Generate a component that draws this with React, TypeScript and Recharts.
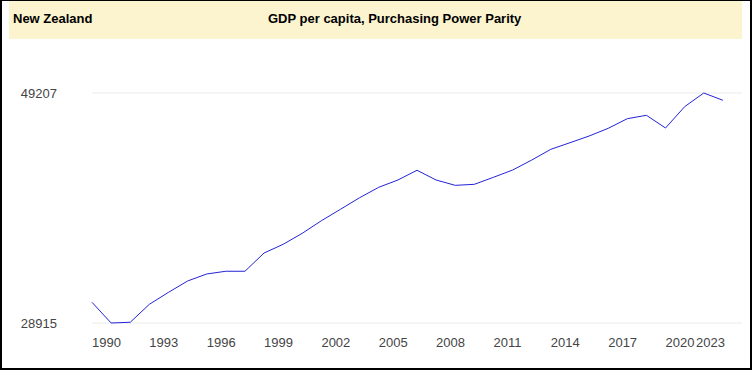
import { LineChart, Line, XAxis, YAxis, CartesianGrid } from "recharts"

const years = [
  1990, 1991, 1992, 1993, 1994, 1995, 1996, 1997, 1998, 1999,
  2000, 2001, 2002, 2003, 2004, 2005, 2006, 2007, 2008, 2009,
  2010, 2011, 2012, 2013, 2014, 2015, 2016, 2017, 2018, 2019,
  2020, 2021, 2022, 2023
]

const gdpPpp = [
  30740, 28915, 28980, 30565, 31620, 32620, 33240, 33480, 33480, 35090,
  35860, 36830, 37940, 38950, 39970, 40890, 41530, 42390, 41530, 41060,
  41150, 41770, 42410, 43290, 44240, 44820, 45410, 46090, 46940, 47240,
  46120, 48000, 49207, 48565
]

const xTicks = [1990, 1993, 1996, 1999, 2002, 2005, 2008, 2011, 2014, 2017, 2020, 2023]
const yTicks = [28915, 49207]

const data = years.map((year, i) => ({ year, value: gdpPpp[i] }))

const FONT = "'Liberation Sans', Arial, sans-serif"

function YearTick(props: any) {
  const { x, y, payload, index } = props
  const isLast = index === xTicks.length - 1
  return (
    <text
      x={isLast ? x + 2 : x}
      y={y}
      dy={9}
      textAnchor={isLast ? "end" : "start"}
      fill="#444"
      fontSize={13}
      fontFamily={FONT}
    >
      {payload.value}
    </text>
  )
}

export default function App() {
  return (
    <div
      style={{
        position: "absolute",
        left: 0,
        top: 0,
        width: 752,
        height: 370,
        boxSizing: "border-box",
        borderStyle: "solid",
        borderColor: "#000",
        borderWidth: "1px 2px 2px 2px",
        background: "#fff",
        fontFamily: FONT
      }}
    >
      <div
        style={{
          position: "absolute",
          left: 7,
          top: 0,
          width: 733,
          height: 38,
          background: "#fcf4cf"
        }}
      />
      <div
        style={{
          position: "absolute",
          left: 11,
          top: 10,
          fontSize: 13,
          fontWeight: "bold",
          color: "#000",
          lineHeight: "15px"
        }}
      >
        New Zealand
      </div>
      <div
        style={{
          position: "absolute",
          left: 266,
          top: 10,
          fontSize: 13,
          fontWeight: "bold",
          color: "#000",
          lineHeight: "15px"
        }}
      >
        GDP per capita, Purchasing Power Parity
      </div>

      <div style={{ position: "absolute", left: -2, top: -1 }}>
        <LineChart
          width={752}
          height={370}
          data={data}
          margin={{ top: 93, right: 10, bottom: 17, left: 0 }}
        >
          <CartesianGrid vertical={false} stroke="#ebebeb" />
          <XAxis
            dataKey="year"
            type="number"
            domain={[1990, 2024]}
            ticks={xTicks}
            axisLine={false}
            tickLine={false}
            tickSize={0}
            tickMargin={15}
            height={30}
            tick={<YearTick />}
            interval={0}
          />
          <YAxis
            type="number"
            domain={[28915, 49207]}
            ticks={yTicks}
            axisLine={false}
            tickLine={false}
            tickSize={0}
            tickMargin={35}
            width={92}
            tick={{ fill: "#444", fontSize: 13, fontFamily: FONT }}
          />
          <Line
            type="linear"
            dataKey="value"
            stroke="#2323d8"
            strokeWidth={1}
            dot={false}
            isAnimationActive={false}
          />
        </LineChart>
      </div>
    </div>
  )
}
